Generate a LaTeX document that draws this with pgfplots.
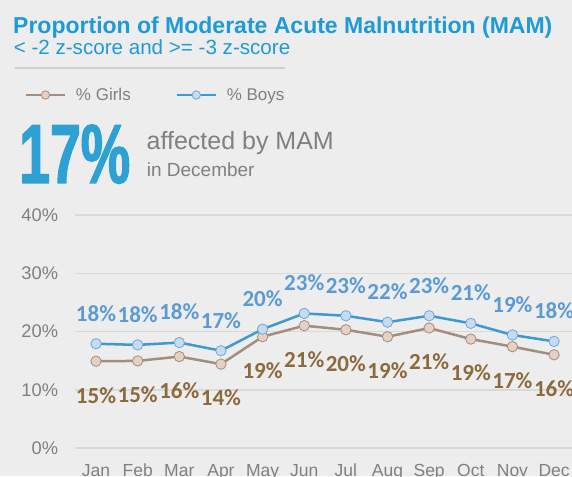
\documentclass[border=0pt]{standalone}
\usepackage{pgfplots}
\pgfplotsset{compat=1.18}
\usepackage{fontspec}
\setmainfont{Liberation Sans}
\newfontfamily\labfont{Carlito}
\newfontfamily\bigfont{Liberation Sans}[FakeStretch=0.66,FakeBold=1.5]
\definecolor{bg}{HTML}{EDEDED}
\definecolor{gridc}{HTML}{D9D9D9}
\definecolor{titleblue}{HTML}{1E9BD7}
\definecolor{bigblue}{HTML}{2DA0D4}
\definecolor{txtgray}{HTML}{808080}
\definecolor{sepgray}{HTML}{CFCFCF}
\definecolor{boysline}{HTML}{3D9AD1}
\definecolor{boysfill}{HTML}{C6DBF0}
\definecolor{boysedge}{HTML}{6AAADC}
\definecolor{boyslab}{HTML}{5B9BD5}
\definecolor{girlsline}{HTML}{A38D7D}
\definecolor{girlsfill}{HTML}{E4D1C3}
\definecolor{girlsedge}{HTML}{A38D7D}
\definecolor{girlslab}{HTML}{8B6A3C}
\pgfplotstableread{
x y lab
1 14.9 15
2 14.95 15
3 15.7 16
4 14.4 14
5 19.1 19
6 21.0 21
7 20.3 20
8 19.1 19
9 20.6 21
10 18.7 19
11 17.4 17
12 16.0 16
}\girls
\pgfplotstableread{
x y lab
1 17.9 18
2 17.7 18
3 18.1 18
4 16.7 17
5 20.4 20
6 23.1 23
7 22.7 23
8 21.6 22
9 22.7 23
10 21.4 21
11 19.4 19
12 18.3 18
}\boys
\begin{document}
\begin{tikzpicture}
\fill[bg] (0,0) rectangle (572pt,476pt);
\begin{scope}
\clip (0,0) rectangle (572pt,476pt);
\begin{axis}[
  at={(75.2pt,28pt)}, anchor=south west,
  scale only axis, width=499.7pt, height=233pt,
  xmin=0.5, xmax=12.5, ymin=0, ymax=40,
  clip=false,
  axis line style={draw=none},
  major tick length=0pt,
  ymajorgrids, grid style={line width=1.5pt, gridc},
  ytick={0,10,20,30,40},
  yticklabels={0\%,10\%,20\%,30\%,40\%},
  xtick={1,...,12},
  xticklabels={Jan,Feb,Mar,Apr,May,Jun,Jul,Aug,Sep,Oct,Nov,Dec},
  yticklabel style={anchor=east, inner sep=0pt, xshift=-16.9pt, font=\fontsize{18.3}{20}\selectfont, text=txtgray},
  xticklabel style={anchor=base, inner sep=0pt, yshift=-28pt, font=\fontsize{17.5}{20}\selectfont, text=txtgray},
  point meta=explicit symbolic,
  nodes near coords={\pgfplotspointmeta\%},
  legend columns=2,
  legend style={at={(axis description cs:-0.10046,1.515)}, anchor=west,
    draw=none, fill=none, inner sep=0pt, outer sep=0pt,
    font=\fontsize{17}{19}\selectfont, text=txtgray,
    nodes={inner sep=0pt},
    /tikz/every odd column/.style={column sep=10pt},
    /tikz/every even column/.style={column sep=45pt}},
  legend cell align=left,
  legend image code/.code={\draw[mark repeat=2,mark phase=2,#1,line width=2pt,mark size=4.2pt] plot coordinates {(0pt,0pt) (19.5pt,0pt) (39pt,0pt)};},
]
\addplot[girlsline, line width=2.5pt, mark=*, mark size=5.2pt,
  mark options={fill=girlsfill, draw=girlsedge, line width=0.8pt},
  every node near coord/.append style={anchor=center, yshift=-34pt, text=girlslab, font=\fontsize{23}{25}\labfont\bfseries}]
  table[x=x, y=y, meta=lab] {\girls};
\addlegendentry{\% Girls}
\addplot[boysline, line width=2.5pt, mark=*, mark size=5.2pt,
  mark options={fill=boysfill, draw=boysedge, line width=0.8pt},
  every node near coord/.append style={anchor=center, yshift=30.5pt, text=boyslab, font=\fontsize{23}{25}\labfont\bfseries}]
  table[x=x, y=y, meta=lab] {\boys};
\addlegendentry{\% Boys}
\end{axis}
\end{scope}
\node[anchor=base west, inner sep=0pt, text=titleblue, font=\fontsize{23}{26}\selectfont\bfseries] at (13pt,442.7pt) {Proportion of Moderate Acute Malnutrition (MAM)};
\node[anchor=base west, inner sep=0pt, text=titleblue, font=\fontsize{20.6}{23}\selectfont] at (13.6pt,421pt) {< -2 z-score and >= -3 z-score};
\draw[line width=2pt, sepgray] (14.6pt,408pt) -- (285pt,408pt);
\node[anchor=base west, inner sep=0pt, text=bigblue, font=\fontsize{84}{90}\bigfont\bfseries] at (19pt,293pt) {17\%};
\node[anchor=base west, inner sep=0pt, text=txtgray, font=\fontsize{25}{28}\selectfont] at (146.5pt,326pt) {affected by MAM};
\node[anchor=base west, inner sep=0pt, text=txtgray, font=\fontsize{19}{22}\selectfont] at (146.7pt,299.3pt) {in December};
\pgfresetboundingbox
\path[use as bounding box] (0,0) rectangle (572pt,476pt);
\end{tikzpicture}
\end{document}
